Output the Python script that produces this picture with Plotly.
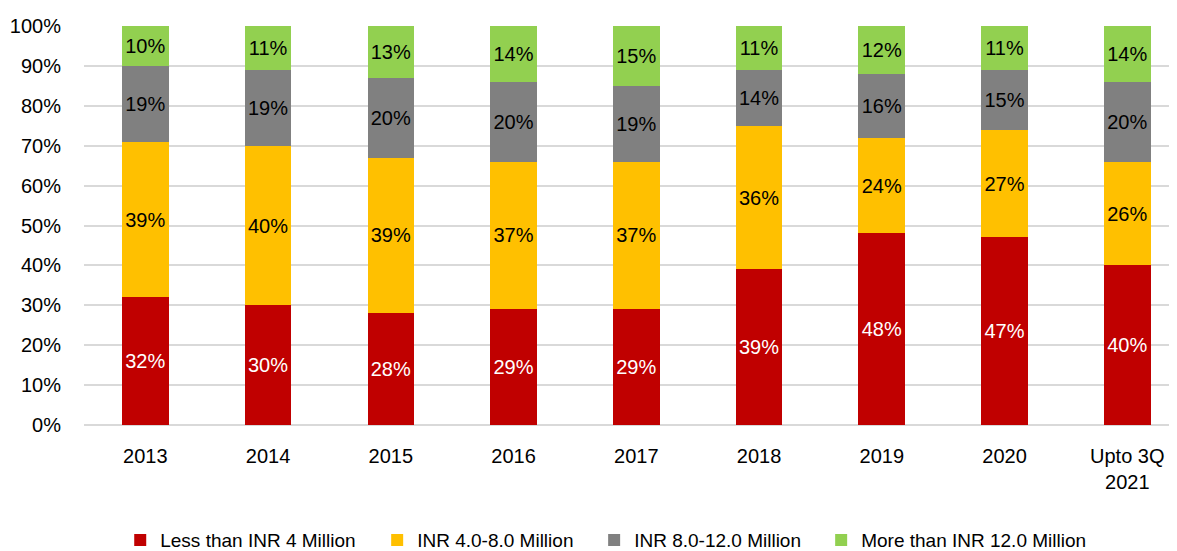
import plotly.graph_objects as go

categories = ["2013", "2014", "2015", "2016", "2017", "2018", "2019", "2020", "Upto 3Q<br>2021"]
less_4 = [32, 30, 28, 29, 29, 39, 48, 47, 40]
inr_4_8 = [39, 40, 39, 37, 37, 36, 24, 27, 26]
inr_8_12 = [19, 19, 20, 20, 19, 14, 16, 15, 20]
more_12 = [10, 11, 13, 14, 15, 11, 12, 11, 14]
y_ticks = [0, 10, 20, 30, 40, 50, 60, 70, 80, 90, 100]

series = [
    ("Less than INR 4 Million", less_4, "#C00000", "#FFFFFF", "legend"),
    ("INR 4.0-8.0 Million", inr_4_8, "#FFC000", "#000000", "legend2"),
    ("INR 8.0-12.0 Million", inr_8_12, "#808080", "#000000", "legend3"),
    ("More than INR 12.0 Million", more_12, "#92D050", "#000000", "legend4"),
]
legend_x = [0.0960, 0.3158, 0.5014, 0.6956]

FONT = "Liberation Sans, Arial, sans-serif"
W, H = 1169, 543  # page body adds an 8px margin

fig = go.Figure()
for name, vals, color, tcolor, lg in series:
    fig.add_trace(go.Bar(
        x=categories, y=vals, name=name,
        marker=dict(color=color, line=dict(width=0)),
        text=[f"{v}%" for v in vals],
        textposition="inside", insidetextanchor="middle",
        textangle=0, constraintext="none",
        textfont=dict(family=FONT, size=20, color=tcolor),
        width=0.38,
        legend=lg,
        hoverinfo="skip",
    ))

legend_common = dict(
    orientation="h",
    xref="container", yref="container",
    xanchor="left", yanchor="middle", y=0.020,
    font=dict(family=FONT, size=19, color="#000000"),
    itemclick=False, itemdoubleclick=False,
    bgcolor="rgba(0,0,0,0)",
)

fig.update_layout(
    width=W, height=H,
    barmode="stack",
    plot_bgcolor="white", paper_bgcolor="white",
    margin=dict(l=76, r=0, t=18, b=126, autoexpand=False),
    font=dict(family=FONT, size=20, color="#000000"),
    xaxis=dict(
        type="category",
        range=[-0.5, 8.405],
        automargin=False,
        showgrid=False, showline=False, zeroline=False,
        ticks="", tickfont=dict(size=20, color="#000000"),
        ticklabelstandoff=17,
    ),
    yaxis=dict(
        range=[0, 100],
        automargin=False,
        tickmode="array",
        tickvals=y_ticks,
        ticktext=[f"{v}%" for v in y_ticks],
        showgrid=True, gridcolor="#D9D9D9", gridwidth=1.5,
        zeroline=True, zerolinecolor="#D9D9D9", zerolinewidth=1.5,
        showline=False, ticks="",
        tickfont=dict(size=20, color="#000000"),
        ticklabelstandoff=22,
    ),
    legend=dict(x=legend_x[0], **legend_common),
    legend2=dict(x=legend_x[1], **legend_common),
    legend3=dict(x=legend_x[2], **legend_common),
    legend4=dict(x=legend_x[3], **legend_common),
    showlegend=True,
)

fig.write_html("out.html")
